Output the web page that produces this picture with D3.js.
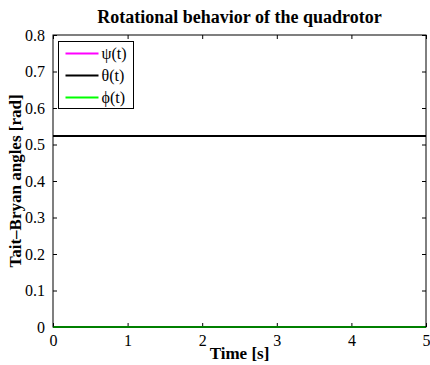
<!DOCTYPE html>
<html>
<head>
<meta charset="utf-8">
<script src="https://cdn.jsdelivr.net/npm/d3@7"></script>
<style>
  body { margin: 0; background: #fff; }
</style>
</head>
<body id="body">
<svg></svg>
<script>
var width = 430;
var height = 365;
var serif = "'Liberation Serif', 'Times New Roman', serif";

// data
var time = [0, 1, 2, 3, 4, 5];
var psi = [0, 0, 0, 0, 0, 0];
var theta = [0.5236, 0.5236, 0.5236, 0.5236, 0.5236, 0.5236];
var phi = [0, 0, 0, 0, 0, 0];
var xTicks = [0, 1, 2, 3, 4, 5];
var yTicks = [0, 0.1, 0.2, 0.3, 0.4, 0.5, 0.6, 0.7, 0.8];

var series = [
  {name: "\u03c8(t)", values: psi, color: "#ff00ff"},
  {name: "\u03b8(t)", values: theta, color: "#000000"},
  {name: "\u03d5(t)", values: phi, color: "#00ff00"}
];

var margin = {top: 35, right: 4, bottom: 38, left: 53};

var svg = d3.select("svg")
  .attr("width", width)
  .attr("height", height)
  .attr("font-family", serif);

var x = d3.scaleLinear()
  .domain([0, 5])
  .range([margin.left, width - margin.right]);

var y = d3.scaleLinear()
  .domain([0, 0.8])
  .range([height - margin.bottom, margin.top]);

var tickLen = 4;

function style(g) {
  g.attr("font-family", serif);
  g.select(".domain").remove();
  g.selectAll("line").attr("stroke", "#000");
  g.selectAll("text").attr("font-size", 16).attr("fill", "#000");
}

// bottom and top axes
svg.append("g")
  .attr("transform", "translate(0," + y(0) + ")")
  .call(d3.axisBottom(x).tickValues(xTicks).tickSizeInner(-tickLen).tickSizeOuter(0).tickPadding(8).tickFormat(d3.format("d")))
  .call(style);

svg.append("g")
  .attr("transform", "translate(0," + y(0.8) + ")")
  .call(d3.axisTop(x).tickValues(xTicks).tickSizeInner(-tickLen).tickSizeOuter(0).tickFormat(""))
  .call(style);

// left and right axes
svg.append("g")
  .attr("transform", "translate(" + x(0) + ",0)")
  .call(d3.axisLeft(y).tickValues(yTicks).tickSizeInner(-tickLen).tickSizeOuter(0).tickPadding(8)
    .tickFormat(function (d) { return d === 0 ? "0" : d3.format(".1f")(d); }))
  .call(style);

svg.append("g")
  .attr("transform", "translate(" + x(5) + ",0)")
  .call(d3.axisRight(y).tickValues(yTicks).tickSizeInner(-tickLen).tickSizeOuter(0).tickFormat(""))
  .call(style);

// data lines
var line = d3.line()
  .x(function (d, i) { return x(time[i]); })
  .y(function (d) { return y(d); });

svg.append("g")
  .selectAll("path")
  .data(series)
  .enter().append("path")
  .attr("d", function (d) { return line(d.values); })
  .attr("fill", "none")
  .attr("stroke", function (d) { return d.color; })
  .attr("stroke-width", 2);

// box
svg.append("rect")
  .attr("x", x(0))
  .attr("y", y(0.8))
  .attr("width", x(5) - x(0))
  .attr("height", y(0) - y(0.8))
  .attr("fill", "none")
  .attr("stroke", "#000")
  .attr("stroke-width", 1);

// legend
var legend = svg.append("g")
  .attr("transform", "translate(58.5,41.5)");

legend.append("rect")
  .attr("width", 75)
  .attr("height", 67)
  .attr("fill", "#fff")
  .attr("stroke", "#000")
  .attr("stroke-width", 1);

var item = legend.selectAll(".item")
  .data(series)
  .enter().append("g")
  .attr("class", "item")
  .attr("transform", function (d, i) { return "translate(0," + (12 + i * 22) + ")"; });

item.append("line")
  .attr("x1", 7)
  .attr("x2", 40)
  .attr("stroke", function (d) { return d.color; })
  .attr("stroke-width", 2);

item.append("text")
  .attr("x", 43)
  .attr("dy", "0.35em")
  .attr("font-size", 16)
  .text(function (d) { return d.name; });

// titles
svg.append("text")
  .attr("x", (x(0) + x(5)) / 2)
  .attr("y", 23)
  .attr("text-anchor", "middle")
  .attr("font-size", 18)
  .attr("font-weight", "bold")
  .text("Rotational behavior of the quadrotor");

svg.append("text")
  .attr("x", (x(0) + x(5)) / 2)
  .attr("y", 359)
  .attr("text-anchor", "middle")
  .attr("font-size", 17)
  .attr("font-weight", "bold")
  .text("Time [s]");

svg.append("text")
  .attr("transform", "translate(21," + ((y(0) + y(0.8)) / 2) + ") rotate(-90)")
  .attr("text-anchor", "middle")
  .attr("font-size", 17)
  .attr("font-weight", "bold")
  .text("Tait\u2013Bryan angles [rad]");
</script>
</body>
</html>
